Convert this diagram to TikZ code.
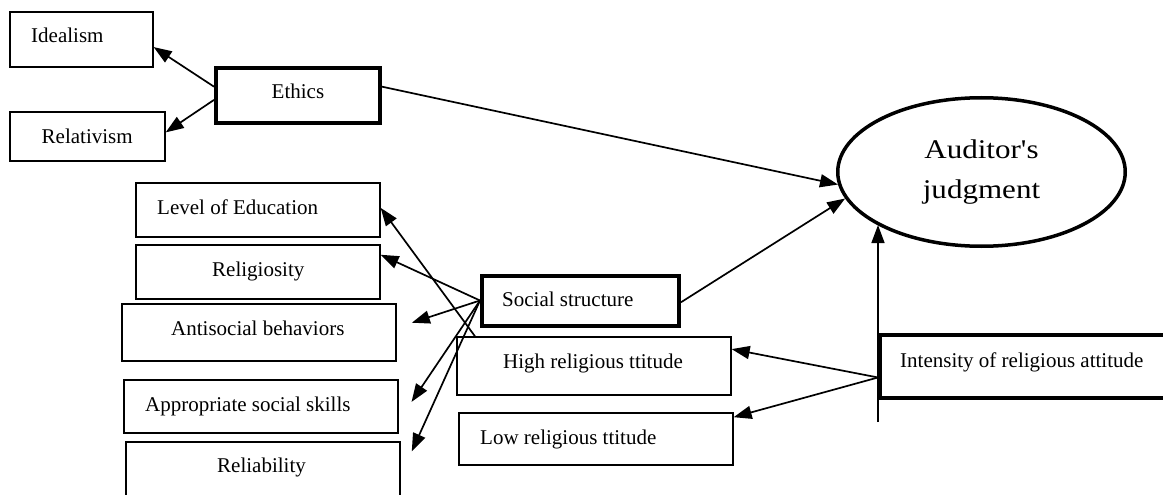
\documentclass[tikz,border=0pt]{standalone}
\usepackage{fontspec}
\setmainfont{Liberation Serif}
\newfontfamily\judgefont[FakeStretch=1.15]{Liberation Serif}
\usetikzlibrary{arrows.meta,shapes}

\tikzset{
  box/.style={draw, line width=1.3pt, inner sep=0pt},
  keybox/.style={box, line width=4pt},
  lbl/.style={anchor=base west, inner sep=0pt, font=\fontsize{21}{25}\selectfont},
  link/.style={->, line width=1.7pt},
}

\begin{document}
\begin{tikzpicture}[x=1pt, y=-1pt, >={Triangle[length=18pt,width=13pt]}]

\clip (0,0) rectangle (1163,495);

% Ethics and its two sides
\node [box, minimum width=143, minimum height=55] (idealism) at (81.5,39.5) {};
\node [lbl] (idealism-t) at (31,43) {Idealism};
\node [box, minimum width=155, minimum height=49] (relativism) at (87.5,136.5) {};
\node [lbl] (relativism-t) at (41.5,143) {Relativism};
\node [keybox, minimum width=164, minimum height=55] (ethics) at (298,95.5) {};
\node [lbl] (ethics-t) at (271.5,99) {Ethics};

% social structure items
\node [box, minimum width=244, minimum height=54] (edu) at (258,210) {};
\node [lbl] (edu-t) at (157,214) {Level of Education};
\node [box, minimum width=244, minimum height=54] (relig) at (258,272) {};
\node [lbl] (relig-t) at (212,276) {Religiosity};
\node [box, minimum width=274, minimum height=57] (antisoc) at (259,332.5) {};
\node [lbl] (antisoc-t) at (171,335) {Antisocial behaviors};
\node [box, minimum width=274, minimum height=53] (skills) at (261,406.5) {};
\node [lbl] (skills-t) at (145,411) {Appropriate social skills};
\node [box, minimum width=274, minimum height=68] (reliab) at (263,476) {};
\node [lbl] (reliab-t) at (217,472) {Reliability};
\node [keybox, minimum width=197, minimum height=50] (social) at (580.5,300.5) {};
\node [lbl] (social-t) at (502,306) {Social structure};

% religious attitude
\node [box, minimum width=274, minimum height=58] (high) at (594,366) {};
\node [lbl] (high-t) at (503,368) {High religious ttitude};
\node [box, minimum width=274, minimum height=52] (low) at (596,439) {};
\node [lbl] (low-t) at (480,444) {Low religious ttitude};
\node [keybox, minimum width=310, minimum height=63] (intens) at (1035,366.5) {};
\node [lbl] (intens-t) at (900,367) {Intensity of religious attitude};

% outcome
\node [draw, ellipse, line width=3.5pt, minimum width=287.5, minimum height=148.5, align=center,
       font=\judgefont\fontsize{27}{40}\selectfont] (judge) at (981.5,172) {Auditor's\\judgment};

\coordinate (ibase) at (878,422);

\draw [link] (ethics.174) -- (idealism.-6);
\draw [link] (ethics.183) -- (relativism.3);
\draw [link] (ethics.6) -- (judge.185);
\draw [link] (social.-1) -- (judge.191);
\draw [link] (ibase) -- (ibase |- judge.207);

\draw [link] (high.166) -- (edu.1);
\draw [link] (social.west) -- (relig.8);
\draw [link, shorten >=16] (social.west) -- (antisoc.2);
\draw [link, shorten >=23] (social.west) -- (skills.-6);
\draw [link, shorten >=27] (social.west) -- (reliab.east);

\draw [link] (intens.184) -- (high.7);
\draw [link] (intens.184) -- (low.9);

\end{tikzpicture}
\end{document}
